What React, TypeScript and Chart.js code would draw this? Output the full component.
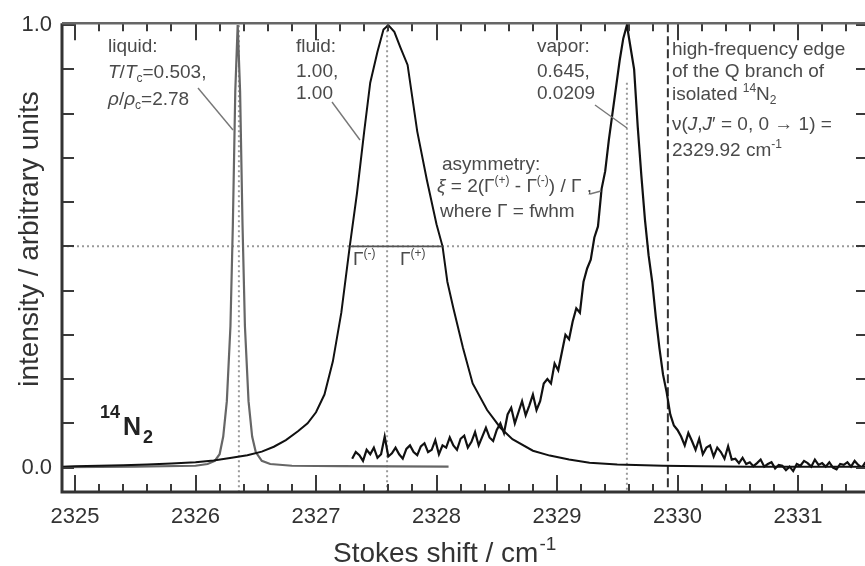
import React, { useEffect, useRef } from 'react';
import { Chart, registerables } from 'chart.js';

Chart.register(...registerables);

// ---------------- data ----------------
const xTickLabels = [2325, 2326, 2327, 2328, 2329, 2330, 2331];
const yTickLabels = [0, 1];
const xMin = 2324.892;
const xMax = 2331.556;
const yMin = -0.0553;
const yMax = 1.0044;

const liquidX = [2324.89, 2325.5, 2326.0, 2326.1, 2326.16, 2326.2, 2326.23, 2326.26, 2326.29, 2326.31, 2326.33, 2326.35, 2326.37, 2326.39, 2326.41, 2326.44, 2326.47, 2326.5, 2326.55, 2326.62, 2326.8, 2327.2, 2328.1];
const liquidY = [0.001, 0.002, 0.004, 0.008, 0.015, 0.03, 0.07, 0.15, 0.32, 0.55, 0.85, 1.0, 0.85, 0.55, 0.32, 0.15, 0.07, 0.035, 0.015, 0.008, 0.004, 0.003, 0.002];

const fluidX = [2324.89, 2325.0, 2325.2, 2325.4, 2325.6, 2325.8, 2326.0, 2326.15, 2326.3, 2326.43, 2326.55, 2326.65, 2326.75, 2326.85, 2326.93, 2327.0, 2327.07, 2327.14, 2327.21, 2327.28, 2327.34, 2327.4, 2327.45, 2327.51, 2327.56, 2327.6, 2327.65, 2327.7, 2327.76, 2327.84, 2327.92, 2328.0, 2328.05, 2328.09, 2328.14, 2328.22, 2328.3, 2328.42, 2328.53, 2328.63, 2328.8, 2328.94, 2329.1, 2329.27, 2329.5, 2329.88, 2330.2, 2330.6, 2331.0, 2331.56];
const fluidY = [0.002, 0.003, 0.004, 0.005, 0.007, 0.009, 0.012, 0.016, 0.022, 0.028, 0.036, 0.047, 0.062, 0.082, 0.1, 0.125, 0.165, 0.24, 0.35, 0.5, 0.62, 0.76, 0.87, 0.94, 0.99, 1.0, 0.985, 0.95, 0.91, 0.76, 0.65, 0.55, 0.5, 0.42, 0.36, 0.27, 0.19, 0.13, 0.09, 0.064, 0.038, 0.027, 0.018, 0.011, 0.007, 0.004, 0.003, 0.002, 0.002, 0.002];

const vaporStart = 2327.3;
const vaporStep = 0.03;
const vaporY = [
  0.02, 0.035, 0.028, 0.015, 0.04, 0.03, 0.045, 0.022, 0.03, 0.07,
  0.025, 0.032, 0.045, 0.03, 0.02, 0.042, 0.05, 0.035, 0.028, 0.048,
  0.055, 0.035, 0.04, 0.062, 0.03, 0.05, 0.045, 0.068, 0.05, 0.04,
  0.065, 0.072, 0.045, 0.058, 0.08, 0.05, 0.07, 0.09, 0.068, 0.06,
  0.085, 0.1, 0.078, 0.12, 0.135, 0.1, 0.125, 0.15, 0.118, 0.14,
  0.165, 0.13, 0.15, 0.19, 0.2, 0.19, 0.235, 0.22, 0.26, 0.3,
  0.29, 0.33, 0.36, 0.35, 0.42, 0.45, 0.47, 0.52, 0.545, 0.63,
  0.67, 0.74, 0.8, 0.86, 0.92, 0.97, 1.0, 0.95, 0.9, 0.77,
  0.66, 0.56, 0.48, 0.42, 0.34, 0.27, 0.21, 0.17, 0.12, 0.095,
  0.085, 0.07, 0.05, 0.078, 0.06, 0.04, 0.065, 0.03, 0.045, 0.05,
  0.025, 0.045, 0.035, 0.02, 0.048, 0.018, 0.02, 0.01, 0.022, 0.008,
  0.012, 0.003, 0.01, 0.018, 0.002, 0.008, 0.012, -0.002, 0.006, 0.004,
  -0.006, 0.002, -0.008, 0.008, 0.004, 0.015, 0.01, 0.002, 0.018, 0.006,
  0.01, 0.002, 0.012, 0.0, -0.004, 0.008, 0.006, 0.012, 0.002, 0.015,
  0.006, 0.0, 0.012,
];

const peakLiquid = 2326.36;
const peakFluid = 2327.59;
const peakVapor = 2329.58;
const vaporDotTop = 0.87;
const qBranchEdge = 2329.92;
const halfMax = 0.5;
const fwhmLeft = 2327.28;
const fwhmRight = 2328.05;

// ---------------- drawing helpers ----------------
const FONT = '"Liberation Sans", Arial, Helvetica, sans-serif';
type Seg = { t: string; s?: 'sup' | 'sub'; i?: boolean };

function drawRich(ctx: CanvasRenderingContext2D, segs: Seg[], x: number, y: number, size: number, color: string, weight = 'normal') {
  let cx = x;
  ctx.fillStyle = color;
  ctx.textAlign = 'left';
  ctx.textBaseline = 'alphabetic';
  for (const seg of segs) {
    const fs = seg.s ? Math.round(size * 0.65) : size;
    const dy = seg.s === 'sup' ? -size * 0.42 : seg.s === 'sub' ? size * 0.22 : 0;
    ctx.font = `${seg.i ? 'italic ' : ''}${weight} ${fs}px ${FONT}`;
    ctx.fillText(seg.t, cx, y + dy);
    cx += ctx.measureText(seg.t).width;
  }
  return cx;
}

const TXT = '#4a4a4a';
const annotations: { segs: Seg[]; x: number; y: number }[] = [
  { segs: [{ t: 'liquid:' }], x: 108, y: 52 },
  { segs: [{ t: 'T', i: true }, { t: '/' }, { t: 'T', i: true }, { t: 'c', s: 'sub' }, { t: '=0.503,' }], x: 108, y: 78 },
  { segs: [{ t: 'ρ', i: true }, { t: '/' }, { t: 'ρ', i: true }, { t: 'c', s: 'sub' }, { t: '=2.78' }], x: 108, y: 105 },
  { segs: [{ t: 'fluid:' }], x: 296, y: 52 },
  { segs: [{ t: '1.00,' }], x: 296, y: 77 },
  { segs: [{ t: '1.00' }], x: 296, y: 99 },
  { segs: [{ t: 'vapor:' }], x: 537, y: 52 },
  { segs: [{ t: '0.645,' }], x: 537, y: 77 },
  { segs: [{ t: '0.0209' }], x: 537, y: 99 },
  { segs: [{ t: 'high-frequency edge' }], x: 672, y: 55 },
  { segs: [{ t: 'of the Q branch of' }], x: 672, y: 77 },
  { segs: [{ t: 'isolated ' }, { t: '14', s: 'sup' }, { t: 'N' }, { t: '2', s: 'sub' }], x: 672, y: 100 },
  { segs: [{ t: 'ν(' }, { t: 'J', i: true }, { t: ',' }, { t: 'J', i: true }, { t: '′ = 0, 0 → 1) =' }], x: 672, y: 130 },
  { segs: [{ t: '2329.92 cm' }, { t: '-1', s: 'sup' }], x: 672, y: 156 },
  { segs: [{ t: 'asymmetry:' }], x: 442, y: 170 },
  { segs: [{ t: 'ξ', i: true }, { t: ' = 2(' }, { t: 'Γ' }, { t: '(+)', s: 'sup' }, { t: ' - ' }, { t: 'Γ' }, { t: '(-)', s: 'sup' }, { t: ') / ' }, { t: 'Γ' }, { t: ' ,' }], x: 437, y: 192 },
  { segs: [{ t: 'where Γ = fwhm' }], x: 440, y: 217 },
  { segs: [{ t: 'Γ' }, { t: '(-)', s: 'sup' }], x: 353, y: 265 },
  { segs: [{ t: 'Γ' }, { t: '(+)', s: 'sup' }], x: 400, y: 265 },
];

const pointers = [
  [198, 88, 233, 130],
  [332, 102, 360, 140],
  [595, 105, 627, 128],
  [590, 194, 601, 191],
];

const decor = {
  id: 'decor',
  beforeDatasetsDraw(chart: any) {
    const { ctx, chartArea: a, scales } = chart;
    const xs = scales.x, ys = scales.y;
    ctx.save();
    ctx.strokeStyle = '#9a9a9a';
    ctx.lineWidth = 2;
    ctx.setLineDash([2, 3]);
    const yh = ys.getPixelForValue(halfMax);
    ctx.beginPath(); ctx.moveTo(a.left, yh); ctx.lineTo(a.right, yh); ctx.stroke();
    const vlines: [number, number][] = [[peakLiquid, 1.0], [peakFluid, 1.0], [peakVapor, vaporDotTop]];
    for (const [xv, top] of vlines) {
      const px = xs.getPixelForValue(xv);
      ctx.beginPath(); ctx.moveTo(px, ys.getPixelForValue(top)); ctx.lineTo(px, a.bottom); ctx.stroke();
    }
    ctx.strokeStyle = '#333';
    ctx.lineWidth = 2;
    ctx.setLineDash([9, 4]);
    const pe = xs.getPixelForValue(qBranchEdge);
    ctx.beginPath(); ctx.moveTo(pe, a.top); ctx.lineTo(pe, a.bottom); ctx.stroke();
    ctx.restore();
  },
  afterDatasetsDraw(chart: any) {
    const { ctx, chartArea: a, scales } = chart;
    const xs = scales.x, ys = scales.y;
    ctx.save();
    ctx.setLineDash([]);
    ctx.strokeStyle = '#555';
    ctx.lineWidth = 1.6;
    const yh = ys.getPixelForValue(halfMax);
    ctx.beginPath(); ctx.moveTo(xs.getPixelForValue(fwhmLeft), yh); ctx.lineTo(xs.getPixelForValue(fwhmRight), yh); ctx.stroke();
    ctx.strokeStyle = '#777';
    ctx.lineWidth = 1.4;
    for (const [x1, y1, x2, y2] of pointers) {
      ctx.beginPath(); ctx.moveTo(x1, y1); ctx.lineTo(x2, y2); ctx.stroke();
    }
    ctx.strokeStyle = '#3a3a3a';
    ctx.lineWidth = 2;
    const minorStep = 0.2;
    for (let k = Math.ceil(xMin / minorStep); k * minorStep <= xMax; k++) {
      const v = k * minorStep;
      const major = Math.abs(v - Math.round(v)) < 1e-6;
      const px = Math.round(xs.getPixelForValue(v));
      const len = major ? 17 : 8;
      ctx.beginPath(); ctx.moveTo(px, a.bottom); ctx.lineTo(px, a.bottom - len); ctx.stroke();
      ctx.beginPath(); ctx.moveTo(px, a.top); ctx.lineTo(px, a.top + len); ctx.stroke();
    }
    for (let k = 0; k <= 10; k++) {
      const py = Math.round(ys.getPixelForValue(k / 10));
      ctx.beginPath(); ctx.moveTo(a.left, py); ctx.lineTo(a.left + 12, py); ctx.stroke();
      ctx.beginPath(); ctx.moveTo(a.right, py); ctx.lineTo(a.right - 9, py); ctx.stroke();
    }
    ctx.lineWidth = 3;
    ctx.strokeStyle = '#333';
    ctx.beginPath(); ctx.moveTo(a.left, a.top); ctx.lineTo(a.left, a.bottom); ctx.lineTo(a.right, a.bottom); ctx.stroke();
    ctx.strokeStyle = '#666';
    ctx.lineWidth = 2.5;
    ctx.beginPath(); ctx.moveTo(a.left, a.top); ctx.lineTo(a.right, a.top); ctx.stroke();
    for (const an of annotations) drawRich(ctx, an.segs, an.x, an.y, 19, TXT);
    drawRich(ctx, [{ t: '14' }], 100, 418, 18, '#222', 'bold');
    drawRich(ctx, [{ t: 'N' }], 123, 435, 25, '#222', 'bold');
    drawRich(ctx, [{ t: '2' }], 143, 443, 18, '#222', 'bold');
    const ex = drawRich(ctx, [{ t: 'Stokes shift / cm' }], 333, 562, 28, '#333');
    drawRich(ctx, [{ t: '-1' }], ex + 1, 550, 19, '#333');
    ctx.save();
    ctx.translate(30, 239);
    ctx.rotate(-Math.PI / 2);
    ctx.font = `28px ${FONT}`;
    ctx.fillStyle = '#333';
    ctx.textAlign = 'center';
    ctx.textBaseline = 'middle';
    ctx.fillText('intensity / arbitrary units', 0, 0);
    ctx.restore();
    ctx.restore();
  },
};

export default function App() {
  const ref = useRef<HTMLCanvasElement | null>(null);
  useEffect(() => {
    if (!ref.current) return;
    const line = { showLine: true, pointRadius: 0, tension: 0, borderWidth: 2 };
    const chart = new Chart(ref.current, {
      type: 'scatter',
      data: {
        datasets: [
          { ...line, label: 'vapor', borderColor: '#111', borderWidth: 2.2, data: vaporY.map((y, i) => ({ x: vaporStart + i * vaporStep, y })) },
          { ...line, label: 'fluid', borderColor: '#111', data: fluidX.map((x, i) => ({ x, y: fluidY[i] })) },
          { ...line, label: 'liquid', borderColor: '#666', borderWidth: 2.2, data: liquidX.map((x, i) => ({ x, y: liquidY[i] })) },
        ],
      },
      options: {
        animation: false,
        responsive: false,
        layout: { padding: { top: 13, right: 0, left: 0, bottom: 0 } },
        plugins: { legend: { display: false }, tooltip: { enabled: false } },
        scales: {
          x: {
            type: 'linear', min: xMin, max: xMax,
            grid: { display: false, drawTicks: false }, border: { display: false },
            afterBuildTicks: (s: any) => { s.ticks = xTickLabels.map((v) => ({ value: v })); },
            afterFit: (s: any) => { s.height = 74; },
            ticks: { padding: 12, color: '#333', autoSkip: false, maxRotation: 0, font: { size: 22, family: FONT }, callback: (v: any) => String(v) },
          },
          y: {
            type: 'linear', min: yMin, max: yMax,
            grid: { display: false, drawTicks: false }, border: { display: false },
            afterBuildTicks: (s: any) => { s.ticks = yTickLabels.map((v) => ({ value: v })); },
            afterFit: (s: any) => { s.width = 62; },
            ticks: { padding: 10, color: '#333', font: { size: 22, family: FONT }, callback: (v: any) => Number(v).toFixed(1) },
          },
        },
      } as any,
      plugins: [decor],
    });
    return () => chart.destroy();
  }, []);
  return (
    <div style={{ position: 'fixed', left: 0, top: 0, width: 865, height: 566, background: '#fff' }}>
      <canvas ref={ref} width={865} height={566} style={{ width: 865, height: 566, display: 'block' }} />
    </div>
  );
}
